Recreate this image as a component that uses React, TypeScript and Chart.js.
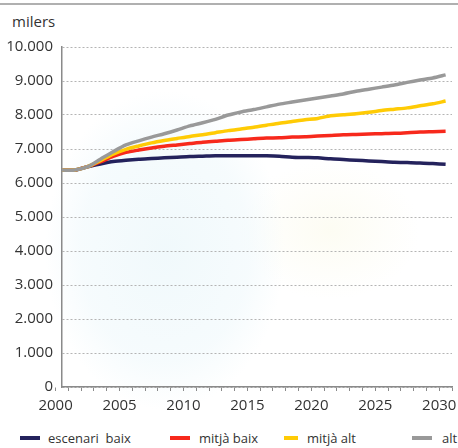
import React, { useEffect, useRef } from "react";
import { Chart, registerables } from "chart.js";

Chart.register(...registerables);

// ---- data ----
const years = [
  2000, 2001, 2002, 2003, 2004, 2005, 2006, 2007, 2008, 2009, 2010,
  2011, 2012, 2013, 2014, 2015, 2016, 2017, 2018, 2019, 2020,
  2021, 2022, 2023, 2024, 2025, 2026, 2027, 2028, 2029, 2030,
];
const escenariBaix = [
  6380, 6380, 6480, 6560, 6630, 6670, 6700, 6720, 6740, 6760, 6780,
  6790, 6800, 6800, 6800, 6800, 6800, 6790, 6760, 6750, 6740,
  6710, 6690, 6670, 6650, 6630, 6610, 6600, 6590, 6570, 6550,
];
const mitjaBaix = [
  6380, 6380, 6480, 6620, 6780, 6900, 6970, 7030, 7080, 7120, 7160,
  7200, 7230, 7260, 7280, 7300, 7320, 7330, 7350, 7360, 7380,
  7400, 7420, 7430, 7440, 7450, 7460, 7480, 7500, 7510, 7520,
];
const mitjaAlt = [
  6380, 6380, 6480, 6660, 6850, 6990, 7090, 7180, 7250, 7310, 7370,
  7420, 7480, 7540, 7590, 7640, 7700, 7760, 7810, 7860, 7900,
  7980, 8010, 8040, 8080, 8130, 8170, 8210, 8270, 8330, 8410,
];
const alt = [
  6380, 6380, 6480, 6700, 6920, 7120, 7240, 7350, 7450, 7560, 7680,
  7770, 7870, 8000, 8090, 8160, 8240, 8320, 8380, 8440, 8500,
  8560, 8620, 8700, 8760, 8820, 8880, 8960, 9030, 9090, 9180,
];
const seriesNames = ["escenari  baix", "mitjà baix", "mitjà alt", "alt"];
const seriesValues = [escenariBaix, mitjaBaix, mitjaAlt, alt];
const seriesColors = ["#24225c", "#f7291c", "#ffcb05", "#999999"];
const xTickYears = [
  2000, 2001, 2002, 2003, 2004, 2005, 2006, 2007, 2008, 2009, 2010,
  2011, 2012, 2013, 2014, 2015, 2016, 2017, 2018, 2019, 2020,
  2021, 2022, 2023, 2024, 2025, 2026, 2027, 2028, 2029, 2030, 2031,
];
const xLabelYears = [2000, 2005, 2010, 2015, 2020, 2025, 2030];
const yMax = 10000;
const yStep = 1000;
const unitLabel = "milers";

// ---- layout / style (not data) ----
const FONT = "'Open Sans', 'Noto Sans', sans-serif";
const TEXT = "#333333";
const legendLayout = [
  { swatch: 20, w: 20, text: 48 },
  { swatch: 170, w: 20, text: 199 },
  { swatch: 284, w: 14, text: 307 },
  { swatch: 412, w: 20, text: 442 },
];

function fmt(v: number): string {
  return String(Math.round(v)).replace(/\B(?=(\d{3})+(?!\d))/g, ".");
}

export default function App() {
  const ref = useRef<HTMLCanvasElement | null>(null);

  useEffect(() => {
    if (!ref.current) return;
    const chart = new Chart(ref.current, {
      type: "line",
      data: {
        datasets: seriesValues.map((vals, i) => ({
          label: seriesNames[i],
          data: years.map((yr, j) => ({ x: yr + 0.5, y: vals[j] })),
          borderColor: seriesColors[i],
          backgroundColor: seriesColors[i],
          borderWidth: 3.5,
          pointRadius: 0,
          tension: 0.25,
          fill: false,
          order: seriesValues.length - i,
        })),
      },
      options: {
        animation: false,
        responsive: false,
        layout: { padding: { left: 0, right: 4, top: 47, bottom: 0 } },
        plugins: { legend: { display: false }, tooltip: { enabled: false } },
        scales: {
          x: {
            type: "linear",
            min: 2000.5,
            max: 2031,
            afterBuildTicks: (s: any) => {
              s.ticks = xTickYears.map((v) => ({ value: v }));
            },
            afterFit: (s: any) => {
              s.height = 33;
            },
            grid: {
              display: true,
              drawOnChartArea: false,
              drawTicks: true,
              tickLength: 4,
              color: "#8a8a8a",
              lineWidth: 1,
            },
            border: { display: true, color: "#8a8a8a", width: 1.5 },
            ticks: {
              autoSkip: false,
              maxRotation: 0,
              padding: 6,
              color: TEXT,
              font: { family: FONT, size: 15 },
              callback: (v: any) =>
                xLabelYears.includes(Number(v)) ? String(v) : "",
            },
          },
          y: {
            min: 0,
            max: yMax,
            afterFit: (s: any) => {
              s.width = 62;
            },
            grid: {
              color: "#b4b4b4",
              lineWidth: 1,
              drawTicks: false,
            },
            border: { display: true, color: "#8a8a8a", width: 1.5, dash: [2, 2] },
            ticks: {
              stepSize: yStep,
              padding: 9,
              color: TEXT,
              font: { family: FONT, size: 15 },
              callback: (v: any) => fmt(Number(v)),
            },
          },
        },
      },
    });
    return () => chart.destroy();
  }, []);

  return (
    <div
      style={{
        position: "absolute",
        left: 0,
        top: 0,
        width: 458,
        height: 448,
        background: "#ffffff",
        overflow: "hidden",
        fontFamily: FONT,
      }}
    >
      <div
        style={{
          position: "absolute",
          left: 0,
          top: 0,
          width: 458,
          height: 448,
          background:
            "radial-gradient(ellipse 120px 160px at 165px 250px, rgba(238,248,251,0.85) 0%, rgba(240,249,252,0.6) 70%, rgba(255,255,255,0) 100%), radial-gradient(ellipse 90px 70px at 330px 230px, rgba(252,251,238,0.7) 0%, rgba(255,255,255,0) 100%)",
        }}
      />
      <div
        style={{
          position: "absolute",
          left: 0,
          top: 3,
          width: 458,
          height: 2,
          background: "#b0b0b0",
        }}
      />
      <div
        style={{
          position: "absolute",
          left: 12,
          top: 11,
          fontSize: 15,
          lineHeight: "20px",
          color: TEXT,
        }}
      >
        {unitLabel}
      </div>
      <canvas
        ref={ref}
        width={458}
        height={420}
        style={{ position: "absolute", left: 0, top: 0 }}
      />
      {seriesNames.map((name, i) => (
        <React.Fragment key={name}>
          <div
            style={{
              position: "absolute",
              left: legendLayout[i].swatch,
              top: 436,
              width: legendLayout[i].w,
              height: 4,
              background: seriesColors[i],
            }}
          />
          <div
            style={{
              position: "absolute",
              left: legendLayout[i].text,
              top: 429,
              fontSize: 13,
              lineHeight: "18px",
              color: TEXT,
              whiteSpace: "pre",
            }}
          >
            {name}
          </div>
        </React.Fragment>
      ))}
    </div>
  );
}
